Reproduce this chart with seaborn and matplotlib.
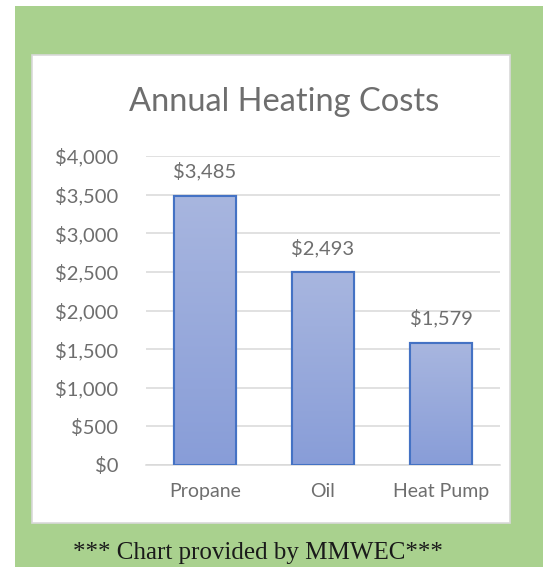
import matplotlib
matplotlib.use("Agg")
import matplotlib.pyplot as plt
import matplotlib.patches as mpatches
import numpy as np
import pandas as pd
import seaborn as sns

# data
fuels = ["Propane", "Oil", "Heat Pump"]
costs = [3485, 2493, 1579]
y_ticks = [0, 500, 1000, 1500, 2000, 2500, 3000, 3500, 4000]

df = pd.DataFrame({"fuel": fuels, "cost": costs})

sns.set_theme(style="white")
plt.rcParams["font.family"] = ["Lato", "DejaVu Sans"]

W, H = 543, 567
fig = plt.figure(figsize=(W / 100, H / 100), dpi=100)
fig.patch.set_facecolor("white")

# green frame and white chart panel
fig.patches.append(mpatches.Rectangle((15 / W, 0), 1 - 15 / W, 1 - 6 / H,
                                      transform=fig.transFigure, facecolor="#A9D18E",
                                      edgecolor="none", zorder=0))
fig.patches.append(mpatches.Rectangle((32 / W, 1 - 523 / H), 478 / W, 468 / H,
                                      transform=fig.transFigure, facecolor="white",
                                      edgecolor="#D9D9D9", linewidth=1.2, zorder=1))

ax = fig.add_axes([146 / W, 1 - 465 / H, 354 / W, 309 / H])
ax.set_zorder(3)
ax.set_facecolor("none")
sns.barplot(data=df, x="fuel", y="cost", ax=ax, width=0.52, color="#9AAADC",
            edgecolor="#4472C4", linewidth=1.5, zorder=3)

# gradient fill inside each bar
grad = np.linspace(0, 1, 256).reshape(-1, 1)
cmap = matplotlib.colors.LinearSegmentedColormap.from_list("g", ["#A8B6DF", "#889DD8"])
for bar in list(ax.patches):
    x0, y0 = bar.get_x(), bar.get_y()
    w, h = bar.get_width(), bar.get_height()
    im = ax.imshow(grad, cmap=cmap, aspect="auto", extent=(x0, x0 + w, y0, y0 + h),
                   origin="upper", zorder=3.5)
    im.set_clip_path(bar)
    edge = mpatches.Rectangle((x0, y0), w, h, facecolor="none", edgecolor="#4472C4",
                              linewidth=1.5, zorder=4)
    ax.add_patch(edge)

ax.set_xlim(-0.5, 2.5)
ax.set_ylim(0, 4000)
ax.set_yticks(y_ticks)
ax.set_yticklabels([f"${v:,}" for v in y_ticks])
ax.yaxis.grid(True, color="#D9D9D9", linewidth=1.1, zorder=0)
ax.set_axisbelow(True)
for s in ["top", "right", "left"]:
    ax.spines[s].set_visible(False)
ax.spines["bottom"].set_color("#D9D9D9")
ax.spines["bottom"].set_linewidth(1.1)
ax.tick_params(axis="y", length=0, pad=20, labelsize=14.5, labelcolor="#6E6E6E")
ax.tick_params(axis="x", length=0, pad=13, labelsize=14, labelcolor="#6E6E6E")
ax.set_xlabel("")
ax.set_ylabel("")

for i, v in enumerate(costs):
    ax.text(i, v + 320, f"${v:,}", ha="center", va="center", fontsize=14.5,
            color="#6E6E6E", zorder=5)

fig.text(284 / W, 1 - 102 / H, "Annual Heating Costs", ha="center", va="center",
         fontsize=23.5, color="#6E6E6E")
fig.text(258 / W, 1 - 553 / H, "*** Chart provided by MMWEC***", ha="center",
         va="center", fontsize=18, color="#1a1a1a", family=["Liberation Serif"])

fig.savefig("out.png", dpi=100)
